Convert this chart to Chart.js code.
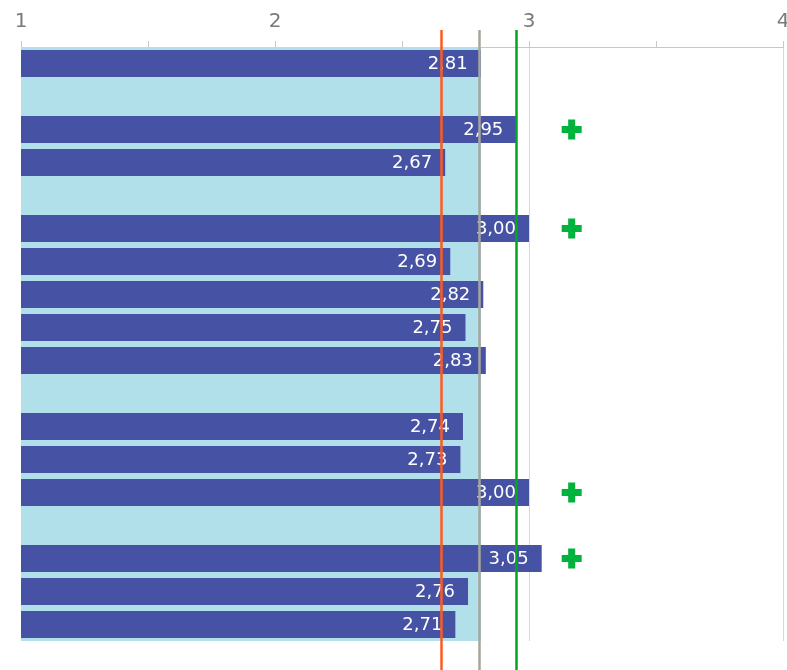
<!DOCTYPE html>
<html>
<head>
<meta charset="utf-8">
<script src="https://cdn.jsdelivr.net/npm/chart.js@4.4.0/dist/chart.umd.min.js"></script>
<style>
html,body{margin:0;padding:0;background:#fff;}
#wrap{width:787px;height:670px;position:relative;}
</style>
</head>
<body>
<div id="wrap"><canvas id="c" width="787" height="670"></canvas></div>
<script>
// Row identifiers (gaps are empty separator rows)
const categories = ['A1','gap1','B1','B2','gap2','C1','C2','C3','C4','C5','gap3','D1','D2','D3','gap4','E1','E2','E3'];
// Bar values
const values = [2.81, null, 2.95, 2.67, null, 3.00, 2.69, 2.82, 2.75, 2.83, null, 2.74, 2.73, 3.00, null, 3.05, 2.76, 2.71];
// Background band (overall average)
const bandValue = 2.81;
const band = categories.map(() => bandValue);
// Plus markers
const markers = [null, null, 3.168, null, null, 3.168, null, null, null, null, null, null, null, 3.168, null, 3.168, null, null];
// Reference lines
const refLines = [
  {value: 2.655, color: '#ff5a1f'},
  {value: 2.805, color: '#a6a69c'},
  {value: 2.95,  color: '#00a81e'}
];
// Axis
const xMin = 1, xMax = 4, xStep = 0.5;

const labelPlugin = {
  id: 'barLabels',
  afterDatasetsDraw(chart) {
    const ctx = chart.ctx;
    const meta = chart.getDatasetMeta(1);
    ctx.save();
    ctx.font = '18px "DejaVu Sans", Verdana, sans-serif';
    ctx.fillStyle = '#ffffff';
    ctx.textAlign = 'right';
    ctx.textBaseline = 'middle';
    meta.data.forEach((el, i) => {
      const v = values[i];
      if (v === null) return;
      ctx.fillText(v.toFixed(2).replace('.', ','), el.x - 13, el.y + 1);
    });
    // reference lines
    const xs = chart.scales.x;
    const top = chart.chartArea.top - 17;
    const bottom = chart.height;
    refLines.forEach(r => {
      const px = Math.round(xs.getPixelForValue(r.value)) + 0.5;
      ctx.beginPath();
      ctx.strokeStyle = r.color;
      ctx.lineWidth = 2.5;
      ctx.moveTo(px, top);
      ctx.lineTo(px, bottom);
      ctx.stroke();
    });
    ctx.restore();
  }
};

new Chart(document.getElementById('c'), {
  data: {
    labels: categories,
    datasets: [
      {
        type: 'bar',
        data: band,
        backgroundColor: '#b2e0ea',
        barPercentage: 1,
        categoryPercentage: 1,
        grouped: false,
        order: 3
      },
      {
        type: 'bar',
        data: values,
        backgroundColor: '#4652a3',
        barPercentage: 0.82,
        categoryPercentage: 1,
        grouped: false,
        order: 2
      },
      {
        type: 'line',
        data: markers,
        showLine: false,
        pointStyle: 'cross',
        pointRadius: 10,
        pointBorderWidth: 7,
        borderColor: '#00b33c',
        backgroundColor: '#00b33c',
        pointBorderColor: '#00b33c',
        clip: false,
        order: 1
      }
    ]
  },
  options: {
    indexAxis: 'y',
    responsive: false,
    animation: false,
    events: [],
    layout: {autoPadding: false, padding: {top: 0, left: 21, right: 4, bottom: 29}},
    plugins: {legend: {display: false}, tooltip: {enabled: false}},
    scales: {
      x: {
        position: 'top',
        min: xMin,
        max: xMax,
        afterFit: s => { s.height = 47; s.paddingLeft = 0; s.paddingRight = 0; },
        ticks: {
          stepSize: xStep,
          autoSkip: false,
          maxRotation: 0,
          padding: 7,
          color: '#7a7a7a',
          font: {family: '"DejaVu Sans", Verdana, sans-serif', size: 20},
          callback: v => Number.isInteger(v) ? String(v) : ''
        },
        grid: {
          color: c => (c.tick && Number.isInteger(c.tick.value)) ? '#d9d9d9' : 'rgba(0,0,0,0)',
          tickColor: '#c8c8c8',
          tickLength: 6,
          lineWidth: 1
        },
        border: {display: true, color: '#c8c8c8', width: 1}
      },
      y: {
        display: false,
        stacked: false
      }
    }
  },
  plugins: [labelPlugin]
});
</script>
</body>
</html>
